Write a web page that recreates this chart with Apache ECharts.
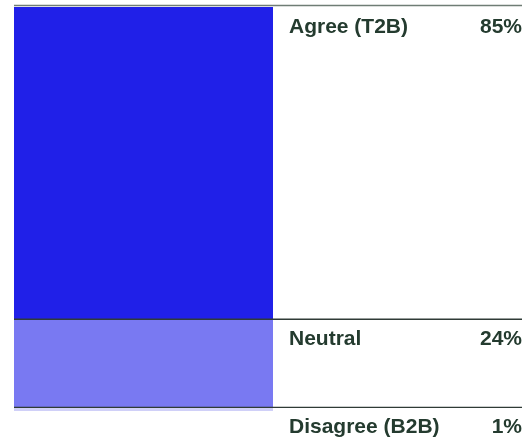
<!DOCTYPE html>
<html>
<head>
<meta charset="utf-8">
<script src="https://cdn.jsdelivr.net/npm/echarts@6/dist/echarts.min.js"></script>
<style>
  html, body { margin: 0; padding: 0; background: #ffffff; }
  #chart { width: 522px; height: 441px; }
</style>
</head>
<body>
<div id="chart"></div>
<script>
// Response groups, their shares and bar colours (stacked top to bottom)
const categories = ['Agree (T2B)', 'Neutral', 'Disagree (B2B)'];
const shares = [85, 24, 1];
const colors = ['#2020e8', '#7979f2', '#d0d0f8'];

const total = shares.reduce((a, b) => a + b, 0);

// Segment start/end along the value axis, used for separators and labels
const segments = [];
let acc = 0;
shares.forEach((v, i) => {
  segments.push([acc, acc + v, i]);
  acc += v;
});

const textColor = '#243b2f';
const font = 'bold 21px "Liberation Sans", Arial, sans-serif';

const chart = echarts.init(document.getElementById('chart'), null, { renderer: 'canvas' });

const barSeries = shares.map((v, i) => ({
  name: categories[i],
  type: 'bar',
  stack: 'total',
  barWidth: '100%',
  silent: true,
  itemStyle: { color: colors[i] },
  data: [v],
  z: 2
}));

chart.setOption({
  animation: false,
  grid: { left: 14, right: 249, top: 7, bottom: 30, containLabel: false },
  xAxis: {
    type: 'category',
    data: ['share'],
    show: false,
    boundaryGap: true
  },
  yAxis: {
    type: 'value',
    inverse: true,
    min: 0,
    max: total,
    show: false
  },
  series: barSeries.concat([{
    type: 'custom',
    silent: true,
    clip: false,
    z: 5,
    data: segments,
    renderItem: function (params, api) {
      const rect = params.coordSys;
      const i = api.value(2);
      const y = api.coord([0, api.value(0)])[1];
      const x0 = rect.x;
      const x1 = api.getWidth();
      const barRight = rect.x + rect.width;
      const lineY = i === 0 ? y - 1.5 : y;
      return {
        type: 'group',
        children: [
          {
            type: 'line',
            shape: { x1: x0, y1: lineY, x2: x1, y2: lineY },
            style: { stroke: i === 0 ? '#6f7d75' : '#2f3b36', lineWidth: i === 0 ? 1.6 : 1.4 }
          },
          {
            type: 'text',
            style: {
              x: barRight + 16,
              y: y + 20,
              text: categories[i],
              font: font,
              fill: textColor,
              align: 'left',
              verticalAlign: 'middle'
            }
          },
          {
            type: 'text',
            style: {
              x: x1,
              y: y + 20,
              text: shares[i] + '%',
              font: font,
              fill: textColor,
              align: 'right',
              verticalAlign: 'middle'
            }
          }
        ]
      };
    }
  }])
});
</script>
</body>
</html>
